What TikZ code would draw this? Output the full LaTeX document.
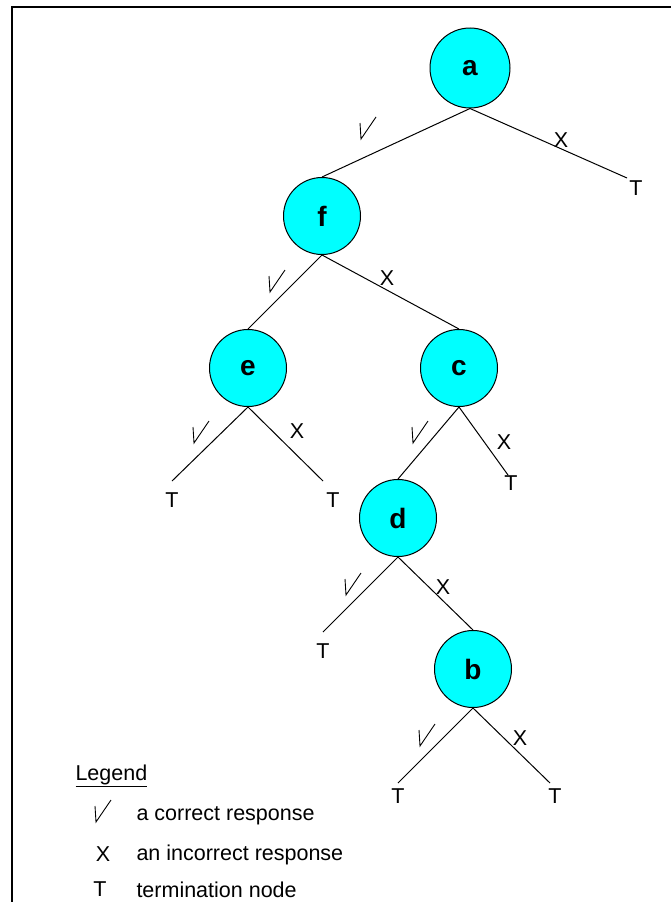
\documentclass[tikz,border=0pt]{standalone}
\usepackage{fontspec}
\setmainfont{Liberation Sans}
\usetikzlibrary{automata}
\definecolor{aqua}{RGB}{0,255,255}

\begin{document}
\begin{tikzpicture}[x=1pt,y=-1pt,line width=1pt,font=\fontsize{21.5}{26}\selectfont]
	\tikzstyle{every state}=[fill=aqua,draw=black,line width=1pt,minimum size=77pt,inner sep=0pt,font=\fontsize{28}{32}\selectfont\bfseries]
	\tikzstyle{leaf}=[inner sep=0pt]
	\tikzset{tick/.pic={\draw[line width=0.9pt] (-8,-5) -- (-7,11) -- (8,-11);}}

	\useasboundingbox (0,0) rectangle (671,902);
	\draw[line width=2.3pt] (12,902) -- (12,7) -- (671,7);

	% the tree
	\node[state,minimum size=80pt] (a) at (470,68) {a};
	\node[state] (f) at (322,216) {f};
	\node[state] (e) at (248,368) {e};
	\node[state] (c) at (459,368) {c};
	\node[state] (d) at (398,518) {d};
	\node[state] (b) at (473,669) {b};

	% loose ends of the branches
	\coordinate (ea) at (627,178);
	\coordinate (ee1) at (172,481);
	\coordinate (ee2) at (323,481);
	\coordinate (ec) at (508,475);
	\coordinate (ed) at (323,632);
	\coordinate (eb1) at (398,783);
	\coordinate (eb2) at (550,783);

	\path (a.south) edge (f.north) edge (ea);
	\path (f.south) edge (e.north) edge (c.north);
	\path (e.south) edge (ee1) edge (ee2);
	\path (c.south) edge (d.north) edge (ec);
	\path (d.south) edge (ed) edge (b.north);
	\path (b.south) edge (eb1) edge (eb2);

	% termination nodes
	\node[leaf] (ta) at (636,188) {T};
	\node[leaf] (te1) at (172,500) {T};
	\node[leaf] (te2) at (333,500) {T};
	\node[leaf] (tc) at (511,483) {T};
	\node[leaf] (td) at (323,651) {T};
	\node[leaf] (tb1) at (398,796) {T};
	\node[leaf] (tb2) at (555,796) {T};

	% responses
	\pic (ka) at (368,128) {tick};
	\pic (kf) at (277,281) {tick};
	\pic (ke) at (201,432) {tick};
	\pic (kc) at (420,432) {tick};
	\pic (kd) at (353,584) {tick};
	\pic (kb) at (427,735) {tick};

	\node[leaf] (xa) at (561,140) {X};
	\node[leaf] (xf) at (387,278) {X};
	\node[leaf] (xe) at (297,431) {X};
	\node[leaf] (xc) at (504,442) {X};
	\node[leaf] (xd) at (443,587) {X};
	\node[leaf] (xb) at (520,738) {X};

	% legend
	\node[leaf,anchor=base west] (leg) at (75,780) {\underline{Legend}};
	\pic (kl) at (103,811) {tick};
	\node[leaf] (xl) at (103,854) {X};
	\node[leaf] (tl) at (100,889) {T};
	\node[leaf,anchor=base west] (l1) at (136,820) {a correct response};
	\node[leaf,anchor=base west] (l2) at (136,860) {an incorrect response};
	\node[leaf,anchor=base west] (l3) at (136,897) {termination node};
\end{tikzpicture}
\end{document}
